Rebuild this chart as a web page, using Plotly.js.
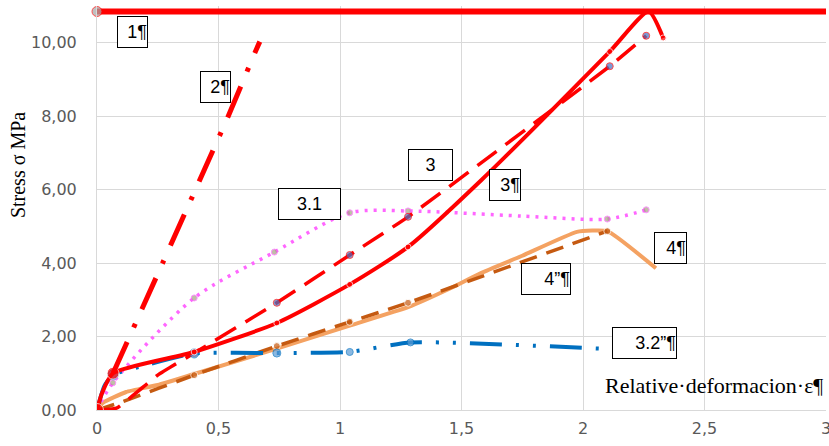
<!DOCTYPE html>
<html>
<head>
<meta charset="utf-8">
<script src="https://cdn.plot.ly/plotly-3.0.1.min.js"></script>
<style>html,body{margin:0;padding:0;background:#fff;}#chart{width:829px;height:446px;}</style>
</head>
<body>
<div id="chart"></div>
<script>
// ---- data ----
var s1X = [0, 3];
var s1Y = [10.85, 10.85];

var s2X = [0.066, 0.27, 0.54, 0.65, 0.67];
var s2Y = [1.0, 4.0, 8.0, 9.73, 10.03];

var s3solidX = [0, 0.02, 0.066, 0.4, 0.74, 1.04, 1.28, 1.58, 2.11, 2.27, 2.33];
var s3solidY = [0, 0.45, 1.0, 1.58, 2.37, 3.42, 4.44, 6.25, 9.76, 10.85, 10.13];

var s3dashX = [0, 0.08, 0.25, 0.4, 0.74, 1.04, 1.28, 2.11, 2.26];
var s3dashY = [0, 0.05, 0.95, 1.55, 2.92, 4.22, 5.26, 9.36, 10.19];

var s31X = [0, 0.065, 0.4, 0.73, 1.04, 1.28, 1.75, 2.1, 2.26];
var s31Y = [0, 0.74, 3.05, 4.3, 5.37, 5.42, 5.28, 5.2, 5.45];

var s32X = [0, 0.03, 0.066, 0.2, 0.4, 0.74, 1.04, 1.29, 2.11];
var s32Y = [0, 0.65, 0.96, 1.22, 1.54, 1.55, 1.58, 1.84, 1.66];

var s4X = [0, 0.025, 0.12, 0.25, 0.4, 0.74, 1.04, 1.28, 1.45, 1.58, 1.75, 1.975, 2.1, 2.3];
var s4Y = [0, 0.2, 0.49, 0.68, 0.98, 1.67, 2.3, 2.8, 3.3, 3.73, 4.2, 4.85, 4.87, 3.86];

var s4bX = [0, 0.107, 0.4, 0.74, 1.04, 1.28, 2.1];
var s4bY = [0, 0.23, 0.95, 1.74, 2.4, 2.92, 4.87];

var xTickVals = [0, 0.5, 1, 1.5, 2, 2.5, 3];
var xTickText = ["0", "0,5", "1", "1,5", "2", "2,5", "3"];
var yTickVals = [0, 2, 4, 6, 8, 10];
var yTickText = ["0,00", "2,00", "4,00", "6,00", "8,00", "10,00"];

var labelText = ["1¶", "2¶", "3", "3¶", "3.1", "4¶", "4”¶", "3.2”¶"];
var labelX = [0.148, 0.488, 1.372, 1.679, 0.874, 2.360, 1.848, 2.253];
var labelY = [10.30, 8.79, 6.66, 6.13, 5.61, 4.40, 3.58, 1.82];
var labelW = [31, 31, 45, 32, 63, 33, 50, 65];
var labelAlign = ["right", "right", "center", "right", "center", "right", "right", "right"];

// ---- traces ----
var traces = [
  {x: s4X, y: s4Y, mode: 'lines', line: {color: '#F4A262', width: 4, shape: 'spline', smoothing: 0.4}},
  {x: s4bX, y: s4bY, mode: 'lines+markers', line: {color: '#C55A11', width: 3.5, dash: '18px,10px', shape: 'spline', smoothing: 0.4},
   marker: {color: '#C55A11', size: [0, 0, 7, 7, 7, 7, 7]}},
  {x: s31X, y: s31Y, mode: 'lines+markers', line: {color: '#FF66FF', width: 3.5, dash: '3px,6px', shape: 'spline', smoothing: 0.8},
   marker: {color: '#A5A582', size: [0, 6, 6, 6, 6, 6, 0, 6, 6]}},
  {x: s3dashX, y: s3dashY, mode: 'lines+markers', line: {color: '#FF0000', width: 3.5, dash: '24px,11px', shape: 'spline', smoothing: 0.4},
   marker: {color: '#4472C4', size: [0, 0, 0, 7, 7, 7, 7, 7, 7]}},
  {x: s32X, y: s32Y, mode: 'lines+markers', line: {color: '#0070C0', width: 4, dash: '32px,14px,3px,14px,3px,14px', shape: 'spline', smoothing: 0.5},
   marker: {color: '#5B9BD5', size: [0, 0, 10, 0, 9, 8, 7, 7, 0]}},
  {x: s3solidX, y: s3solidY, mode: 'lines+markers', line: {color: '#FF0000', width: 4, shape: 'spline', smoothing: 0.6},
   marker: {color: '#FF0000', size: [13, 0, 12, 6, 6, 6, 6, 0, 6, 0, 6]}},
  {x: s2X, y: s2Y, mode: 'lines', line: {color: '#FF0000', width: 5, dash: '34px,16px,4px,16px', shape: 'spline', smoothing: 0.3}},
  {x: s1X, y: s1Y, mode: 'lines+markers', line: {color: '#FF0000', width: 6},
   marker: {color: '#A5A5A5', size: [10, 0]}, cliponaxis: false}
];

var annotations = [];
for (var i = 0; i < labelText.length; i++) {
  annotations.push({
    x: labelX[i], y: labelY[i], xref: 'x', yref: 'y', text: labelText[i], showarrow: false,
    width: labelW[i] - 2, height: 30, align: labelAlign[i], valign: 'middle',
    bgcolor: '#FFFFFF', bordercolor: '#000000', borderwidth: 1, borderpad: 0,
    font: {family: 'Liberation Sans, Arial, sans-serif', size: 18, color: '#000000'}
  });
}
annotations.push({
  xref: 'paper', yref: 'paper', x: 0.998, y: 0.060, xanchor: 'right', yanchor: 'middle',
  text: 'Relative·deformacion·ε¶', showarrow: false,
  font: {family: 'Liberation Serif, Times New Roman, serif', size: 22, color: '#000000'}
});
annotations.push({
  xref: 'paper', yref: 'paper', x: -0.109, y: 0.605, xanchor: 'center', yanchor: 'middle',
  text: 'Stress σ MPa', textangle: -90, showarrow: false,
  font: {family: 'Liberation Serif, Times New Roman, serif', size: 20, color: '#000000'}
});

var layout = {
  width: 829, height: 446,
  margin: {l: 97, r: 3, t: 6, b: 36, pad: 0},
  paper_bgcolor: '#FFFFFF', plot_bgcolor: '#FFFFFF',
  showlegend: false,
  xaxis: {
    range: [0, 3], tickvals: xTickVals, ticktext: xTickText,
    showgrid: true, gridcolor: '#D9D9D9', gridwidth: 1,
    zeroline: false, showline: true, linecolor: '#D9D9D9', linewidth: 1,
    ticks: 'outside', ticklen: 4, tickcolor: '#FFFFFF', ticklabeloverflow: 'allow',
    tickfont: {family: 'DejaVu Sans, sans-serif', size: 16, color: '#595959'}
  },
  yaxis: {
    range: [0, 11], tickvals: yTickVals, ticktext: yTickText,
    showgrid: true, gridcolor: '#D9D9D9', gridwidth: 1,
    zeroline: false, showline: true, linecolor: '#D9D9D9', linewidth: 1,
    ticks: 'outside', ticklen: 16, tickcolor: '#FFFFFF',
    tickfont: {family: 'DejaVu Sans, sans-serif', size: 16, color: '#595959'}
  },
  annotations: annotations
};

Plotly.newPlot('chart', traces, layout, {displayModeBar: false, staticPlot: true});
</script>
</body>
</html>
